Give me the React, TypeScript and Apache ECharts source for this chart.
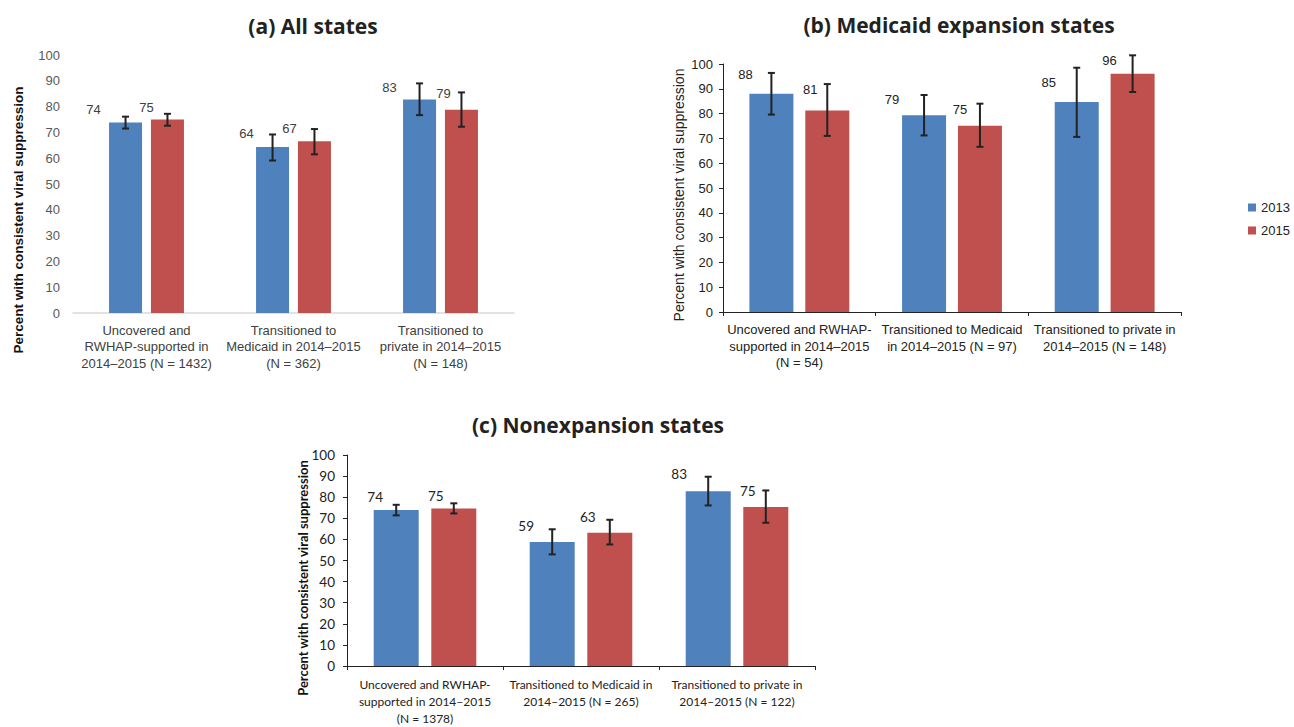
import React, { useEffect, useRef } from "react";
import * as echarts from "echarts";

// ---------- Data ----------
const seriesNames = ["2013", "2015"];
const yTicks = { min: 0, max: 100, interval: 10 };

// (a) All states
const catsA = [
  "Uncovered and\nRWHAP-supported in\n2014–2015 (N = 1432)",
  "Transitioned to\nMedicaid in 2014–2015\n(N = 362)",
  "Transitioned to\nprivate in 2014–2015\n(N = 148)",
];
const a2013 = [73.8, 64.3, 82.8];
const a2015 = [75.0, 66.6, 78.8];
const a2013Lo = [71.5, 59.1, 76.7];
const a2013Hi = [76.1, 69.2, 89.0];
const a2015Lo = [72.6, 61.5, 72.2];
const a2015Hi = [77.2, 71.3, 85.5];

// (b) Medicaid expansion states
const catsB = [
  "Uncovered and RWHAP-\nsupported in 2014–2015\n(N = 54)",
  "Transitioned to Medicaid\nin 2014–2015 (N = 97)",
  "Transitioned to private in\n2014–2015 (N = 148)",
];
const b2013 = [88.0, 79.3, 84.7];
const b2015 = [81.3, 75.1, 96.1];
const b2013Lo = [79.6, 71.2, 70.6];
const b2013Hi = [96.4, 87.5, 98.5];
const b2015Lo = [71.0, 66.6, 88.7];
const b2015Hi = [91.9, 84.0, 103.5];

// (c) Nonexpansion states
const catsC = [
  "Uncovered and RWHAP-\nsupported in 2014–2015\n(N = 1378)",
  "Transitioned to Medicaid in\n2014–2015 (N = 265)",
  "Transitioned to private in\n2014–2015 (N = 122)",
];
const c2013 = [73.9, 58.8, 82.8];
const c2015 = [74.6, 63.2, 75.4];
const c2013Lo = [71.4, 52.9, 76.1];
const c2013Hi = [76.4, 64.8, 89.7];
const c2015Lo = [72.3, 57.6, 67.9];
const c2015Hi = [77.1, 69.3, 83.2];

// ---------- Styling (label shifts relative to bar top-center) ----------
const shiftA2013 = [[-32, -13], [-26, -14], [-30, -12]];
const shiftA2015 = [[-21, -12], [-25, -13], [-18, -16]];
const shiftB2013 = [[-26, -19], [-32, -16], [-28, -19]];
const shiftB2015 = [[-17, -21], [-20, -16], [-23, -13]];
const shiftC2013 = [[-21, -13], [-26, -16], [-29, -17]];
const shiftC2015 = [[-18, -13], [-22, -16], [-18, -16]];

const BLUE = "#4F81BD";
const RED = "#C0504D";
const ARIAL = "Liberation Sans, Arial, sans-serif";
const CAL = "Lato, Open Sans, sans-serif";

type Panel = {
  cats: string[];
  v13: number[];
  v15: number[];
  lo13: number[];
  hi13: number[];
  lo15: number[];
  hi15: number[];
  sh13: number[][];
  sh15: number[][];
  grid: { left: number; top: number; width: number; height: number };
  barWidth: number;
  gapRatio: number;
  font: string;
  fontSize: number;
  xFontSize: number;
  xLineHeight: number;
  xMargin: number;
  yMargin: number;
  textColor: string;
  yTextColor: string;
  axisColor: string;
  showYAxisLine: boolean;
  xTicks: boolean;
};

const panels: Panel[] = [
  {
    cats: catsA, v13: a2013, v15: a2015, lo13: a2013Lo, hi13: a2013Hi, lo15: a2015Lo, hi15: a2015Hi,
    sh13: shiftA2013, sh15: shiftA2015,
    grid: { left: 73, top: 55, width: 441, height: 258 },
    barWidth: 33, gapRatio: 0.27, font: ARIAL, fontSize: 13, xFontSize: 13, xLineHeight: 16.5, xMargin: 9, yMargin: 13,
    textColor: "#404040", yTextColor: "#595959", axisColor: "#d9d9d9", showYAxisLine: false, xTicks: false,
  },
  {
    cats: catsB, v13: b2013, v15: b2015, lo13: b2013Lo, hi13: b2013Hi, lo15: b2015Lo, hi15: b2015Hi,
    sh13: shiftB2013, sh15: shiftB2015,
    grid: { left: 723, top: 64, width: 458, height: 248 },
    barWidth: 44, gapRatio: 0.27, font: ARIAL, fontSize: 13, xFontSize: 13, xLineHeight: 16.7, xMargin: 9, yMargin: 10,
    textColor: "#222", yTextColor: "#222", axisColor: "#222", showYAxisLine: true, xTicks: true,
  },
  {
    cats: catsC, v13: c2013, v15: c2015, lo13: c2013Lo, hi13: c2013Hi, lo15: c2015Lo, hi15: c2015Hi,
    sh13: shiftC2013, sh15: shiftC2015,
    grid: { left: 347, top: 455, width: 468, height: 213 },
    barWidth: 45, gapRatio: 0.28, font: CAL, fontSize: 13.5, xFontSize: 12, xLineHeight: 17, xMargin: 10, yMargin: 12,
    textColor: "#222", yTextColor: "#222", axisColor: "#222", showYAxisLine: true, xTicks: true,
  },
];

function buildOption() {
  const grid: any[] = [];
  const xAxis: any[] = [];
  const yAxis: any[] = [];
  const series: any[] = [];

  panels.forEach((p, k) => {
    grid.push({ ...p.grid, containLabel: false });
    xAxis.push({
      type: "category",
      gridIndex: k,
      data: p.cats,
      axisLine: { show: true, lineStyle: { color: p.axisColor, width: p.xTicks ? 1 : 1.5 } },
      axisTick: { show: p.xTicks, length: 4, lineStyle: { color: p.axisColor } },
      axisLabel: {
        interval: 0,
        margin: p.xMargin,
        color: p.textColor,
        fontFamily: p.font,
        fontSize: p.xFontSize,
        lineHeight: p.xLineHeight,
        align: "center",
      },
      splitLine: { show: false },
    });
    yAxis.push({
      type: "value",
      gridIndex: k,
      min: yTicks.min,
      max: yTicks.max,
      interval: yTicks.interval,
      axisLine: { show: p.showYAxisLine, lineStyle: { color: p.axisColor } },
      axisTick: { show: p.showYAxisLine, length: 4, lineStyle: { color: p.axisColor } },
      axisLabel: { margin: p.yMargin, color: p.yTextColor, fontFamily: p.font, fontSize: p.fontSize },
      splitLine: { show: false },
    });

    const off = (p.barWidth * (1 + p.gapRatio)) / 2;
    const groups = [
      { name: seriesNames[0], vals: p.v13, lo: p.lo13, hi: p.hi13, sh: p.sh13, color: BLUE, off: -off },
      { name: seriesNames[1], vals: p.v15, lo: p.lo15, hi: p.hi15, sh: p.sh15, color: RED, off: off },
    ];
    groups.forEach((g) => {
      series.push({
        type: "bar",
        name: g.name,
        xAxisIndex: k,
        yAxisIndex: k,
        barWidth: p.barWidth,
        barGap: `${Math.round(p.gapRatio * 100)}%`,
        itemStyle: { color: g.color },
        data: g.vals.map((v, i) => ({
          value: v,
          label: { offset: g.sh[i] },
        })),
        label: {
          show: true,
          position: ["50%", 0],
          align: "center",
          verticalAlign: "middle",
          formatter: (pr: any) => String(Math.round(pr.value)),
          color: p.textColor,
          fontFamily: p.font,
          fontSize: p.fontSize,
        },
      });
      series.push({
        type: "custom",
        name: "err" + k + g.name,
        xAxisIndex: k,
        yAxisIndex: k,
        clip: false,
        z: 5,
        encode: { x: 0, y: [1, 2] },
        data: g.vals.map((_, i) => [i, g.lo[i], g.hi[i]]),
        renderItem: (params: any, api: any) => {
          const ci = api.value(0);
          const lo = api.coord([ci, api.value(1)]);
          const hi = api.coord([ci, api.value(2)]);
          const x = lo[0] + g.off;
          const cap = 3.5;
          const st = { stroke: "#222", lineWidth: 2 };
          return {
            type: "group",
            children: [
              { type: "line", shape: { x1: x, y1: hi[1], x2: x, y2: lo[1] }, style: st },
              { type: "line", shape: { x1: x - cap, y1: hi[1], x2: x + cap, y2: hi[1] }, style: st },
              { type: "line", shape: { x1: x - cap, y1: lo[1], x2: x + cap, y2: lo[1] }, style: st },
            ],
          };
        },
      });
    });
  });

  const yName = "Percent with consistent viral suppression";
  const titleFont = "bold 21px 'Open Sans', sans-serif";
  const graphic: any[] = [
    { type: "text", x: 313, y: 26, style: { text: "(a) All states", align: "center", verticalAlign: "middle", font: titleFont, fill: "#222" } },
    { type: "text", x: 959, y: 25, style: { text: "(b) Medicaid expansion states", align: "center", verticalAlign: "middle", font: titleFont, fill: "#222" } },
    { type: "text", x: 598, y: 425, style: { text: "(c) Nonexpansion states", align: "center", verticalAlign: "middle", font: titleFont, fill: "#222" } },
    { type: "text", x: 18, y: 220, rotation: Math.PI / 2, style: { text: yName, align: "center", verticalAlign: "middle", font: "bold 13.5px 'Liberation Sans', Arial, sans-serif", fill: "#111" } },
    { type: "text", x: 679, y: 195, rotation: Math.PI / 2, style: { text: yName, align: "center", verticalAlign: "middle", font: "14px 'Liberation Sans', Arial, sans-serif", fill: "#222" } },
    { type: "text", x: 303, y: 578, rotation: Math.PI / 2, style: { text: yName, align: "center", verticalAlign: "middle", font: "bold 13px Lato, sans-serif", fill: "#111" } },
  ];

  return {
    animation: false,
    backgroundColor: "#ffffff",
    legend: {
      data: seriesNames,
      orient: "vertical",
      left: 1248,
      top: 201,
      padding: 0,
      itemWidth: 8,
      itemHeight: 8,
      itemGap: 10,
      icon: "rect",
      textStyle: { fontFamily: ARIAL, fontSize: 13, color: "#222" },
    },
    grid,
    xAxis,
    yAxis,
    series,
    graphic,
  };
}

export default function App() {
  const ref = useRef<HTMLDivElement>(null);
  useEffect(() => {
    if (!ref.current) return;
    const chart = echarts.init(ref.current, undefined, { renderer: "svg" });
    chart.setOption(buildOption() as any);
    return () => chart.dispose();
  }, []);
  return (
    <div
      ref={ref}
      style={{ position: "fixed", left: 0, top: 0, width: 1294, height: 727, background: "#fff" }}
    />
  );
}
